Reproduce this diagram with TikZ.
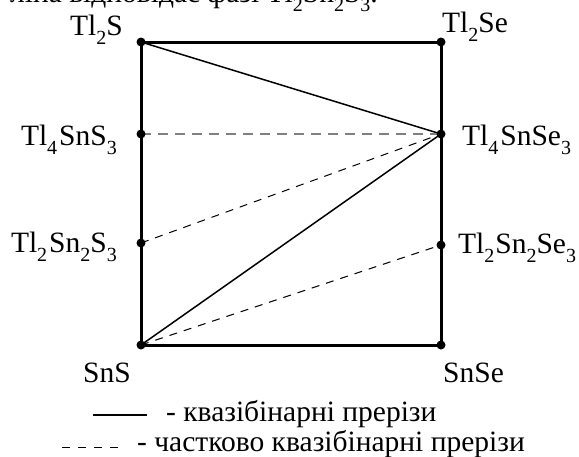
\documentclass[tikz,border=0pt]{standalone}
\usepackage{fontspec}
\setmainfont{Liberation Serif}
\usetikzlibrary{positioning,calc}
\newcommand{\sbs}[1]{\raisebox{-9pt}{\fontsize{20}{20}\selectfont #1}}
\tikzset{
  pt/.style={circle,fill=black,inner sep=0pt,minimum size=9pt},
  phase/.style={font=\fontsize{29.5}{32}\selectfont,inner sep=0pt},
  edge/.style={line width=3pt},
  qbin/.style={line width=1.5pt},
  pqbin/.style={line width=1pt,dash pattern=on 8pt off 7pt},
}

\begin{document}
\begin{tikzpicture}[x=1pt,y=-1pt]
  \useasboundingbox (0,0) rectangle (579,456);
  % cut-off caption line at the top
  \begin{scope}
    \clip (0,0) rectangle (579,456);
    \node[phase,anchor=base east] (cap) at (378,2) {ліна відповідає фазі Tl\sbs{2}Sn\sbs{2}S\sbs{3}.};
  \end{scope}
  % corners and intermediate phases
  \coordinate (tls)  at (141,42);
  \coordinate (tlse) at (441,42);
  \coordinate (sns)  at (141,345);
  \coordinate (snse) at (441,345);
  \coordinate (t4s)  at (141,134);
  \coordinate (t4se) at (441,134);
  \coordinate (t2s)  at (141,243);
  \coordinate (t2se) at (441,245);
  \draw[edge] (tls) -- (tlse) -- (snse) -- (sns) -- cycle;
  % sections
  \draw[qbin] (tls) -- (t4se);
  \draw[qbin] (sns) -- (t4se);
  \draw[pqbin,gray,line width=1.3pt,dash pattern=on 10pt off 7pt] (t4s) -- (t4se);
  \draw[pqbin] (t2s) -- (t4se);
  \draw[pqbin] (sns) -- (t2se);
  \foreach \p in {tls,tlse,sns,snse,t4s,t4se,t2s,t2se}
    \node[pt] (\p-dot) at (\p) {};
  % labels
  \node[phase,anchor=base east] (tls-lbl) at ([xshift=-18pt,yshift=7pt]tls) {Tl\sbs{2}S};
  \node[phase,anchor=base west] (tlse-lbl) at ([xshift=1pt,yshift=10pt]tlse) {Tl\sbs{2}Se};
  \node[phase,anchor=base east] (t4s-lbl) at ([xshift=-24pt,yshift=-11pt]t4s) {Tl\sbs{4}\kern2pt SnS\sbs{3}};
  \node[phase,anchor=base east] (t2s-lbl) at ([xshift=-24pt,yshift=-9pt]t2s) {Tl\sbs{2}\kern2pt Sn\sbs{2}S\sbs{3}};
  \node[phase,anchor=base west] (t4se-lbl) at ([xshift=21pt,yshift=-11pt]t4se) {Tl\sbs{4}\kern2pt SnSe\sbs{3}};
  \node[phase,anchor=base west] (t2se-lbl) at ([xshift=17pt,yshift=-8pt]t2se) {Tl\sbs{2}\kern1pt Sn\sbs{2}Se\sbs{3}};
  \node[phase,anchor=base] (sns-lbl) at ([xshift=-34pt,yshift=-37pt]sns) {SnS};
  \node[phase,anchor=base west] (snse-lbl) at ([xshift=2pt,yshift=-37pt]snse) {SnSe};
  % legend
  \coordinate (leg1a) at (93,415);
  \coordinate (leg1b) at (147,415);
  \coordinate (leg2a) at (62,447);
  \coordinate (leg2b) at (118,447);
  \draw[qbin] (leg1a) -- (leg1b);
  \draw[pqbin,dash pattern=on 8pt off 8pt] (leg2a) -- (leg2b);
  \node[phase,anchor=base west] (leg1) at (166,421) {- квазібінарні прерізи};
  \node[phase,anchor=base west] (leg2) at (137,451) {- частково квазібінарні прерізи};
\end{tikzpicture}
\end{document}
